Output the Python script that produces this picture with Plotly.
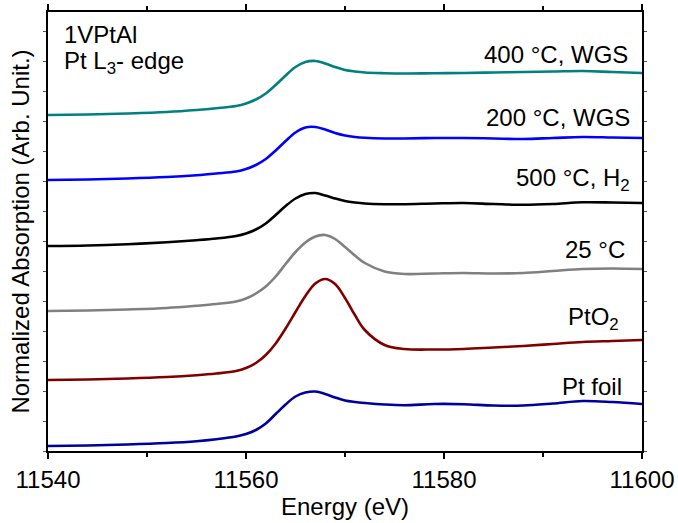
import plotly.graph_objects as go

energy = [11540, 11544, 11548, 11552, 11555, 11557, 11559, 11560, 11561, 11562, 11563, 11564, 11565,
          11566, 11567, 11568, 11569, 11570, 11571, 11572, 11574, 11576, 11579, 11582, 11585, 11588,
          11591, 11594, 11597, 11600]

# Offset normalized absorption for each spectrum
v_400wgs = [3.36, 3.365, 3.375, 3.39, 3.41, 3.428, 3.45, 3.475, 3.515, 3.575, 3.66, 3.755, 3.84,
            3.89, 3.90, 3.875, 3.84, 3.81, 3.795, 3.785, 3.778, 3.775, 3.778, 3.78, 3.785, 3.79,
            3.795, 3.80, 3.79, 3.78]
v_200wgs = [2.71, 2.715, 2.725, 2.74, 2.758, 2.775, 2.795, 2.82, 2.86, 2.92, 3.005, 3.10, 3.185,
            3.235, 3.24, 3.215, 3.18, 3.155, 3.14, 3.132, 3.125, 3.125, 3.13, 3.13, 3.125, 3.12,
            3.13, 3.14, 3.135, 3.13]
v_500h2 = [2.05, 2.055, 2.068, 2.088, 2.108, 2.125, 2.15, 2.175, 2.215, 2.275, 2.36, 2.45, 2.525,
           2.57, 2.58, 2.555, 2.525, 2.50, 2.485, 2.475, 2.468, 2.468, 2.475, 2.48, 2.47, 2.462,
           2.47, 2.487, 2.485, 2.48]
v_25c = [1.40, 1.405, 1.415, 1.43, 1.452, 1.47, 1.495, 1.525, 1.575, 1.645, 1.745, 1.87, 1.99,
         2.085, 2.145, 2.16, 2.12, 2.04, 1.955, 1.88, 1.795, 1.77, 1.775, 1.78, 1.775, 1.78,
         1.80, 1.82, 1.825, 1.82]
v_pto2 = [0.71, 0.715, 0.725, 0.74, 0.758, 0.775, 0.80, 0.83, 0.88, 0.96, 1.075, 1.225, 1.39,
          1.55, 1.675, 1.72, 1.67, 1.53, 1.36, 1.21, 1.06, 1.02, 1.015, 1.02, 1.035, 1.05,
          1.07, 1.09, 1.10, 1.11]
v_ptfoil = [0.05, 0.055, 0.065, 0.08, 0.098, 0.118, 0.145, 0.17, 0.21, 0.275, 0.37, 0.465, 0.545,
            0.585, 0.595, 0.57, 0.535, 0.505, 0.49, 0.48, 0.465, 0.458, 0.47, 0.468, 0.455, 0.455,
            0.475, 0.50, 0.49, 0.47]

labels = ["400 °C, WGS", "200 °C, WGS", "500 °C, H<sub>2</sub>", "25 °C", "PtO<sub>2</sub>", "Pt foil"]
colors = ["#008080", "#0000FF", "#000000", "#808080", "#800000", "#00009C"]
values = [v_400wgs, v_200wgs, v_500h2, v_25c, v_pto2, v_ptfoil]

# label anchors: right edge x (eV), middle y (data units)
label_x = [11598.8, 11599.0, 11599.0, 11598.5, 11597.9, 11598.2]
label_y = [3.97, 3.34, 2.72, 2.015, 1.33, 0.65]

font = "Arial, Liberation Sans, sans-serif"
fs = 24
fig = go.Figure()
for name, v, c in zip(labels, values, colors):
    fig.add_trace(go.Scatter(x=energy, y=v, mode="lines", name=name,
                             line=dict(color=c, width=2.6, shape="spline", smoothing=1.0),
                             showlegend=False, hoverinfo="skip"))

for name, lx, ly in zip(labels, label_x, label_y):
    fig.add_annotation(x=lx, y=ly, text=name, showarrow=False, xanchor="right", yanchor="middle",
                       font=dict(size=fs, color="black", family=font))

fig.add_annotation(x=0.024, y=0.948, xref="paper", yref="paper", text="1VPtAl", showarrow=False,
                   xanchor="left", yanchor="middle", font=dict(size=fs, color="black", family=font))
fig.add_annotation(x=0.024, y=0.885, xref="paper", yref="paper", text="Pt L<sub>3</sub>- edge", showarrow=False,
                   xanchor="left", yanchor="middle", font=dict(size=fs, color="black", family=font))

# axis titles
fig.add_annotation(x=0.5, y=-0.127, xref="paper", yref="paper", text="Energy (eV)", showarrow=False,
                   xanchor="center", yanchor="middle", font=dict(size=fs, color="black", family=font))
fig.add_annotation(x=-0.047, y=0.5, xref="paper", yref="paper", text="Normalized Absorption (Arb. Unit.)",
                   showarrow=False, textangle=-90, xanchor="center", yanchor="middle",
                   font=dict(size=fs, color="black", family=font))

fig.update_layout(
    width=678, height=523,
    margin=dict(l=48, r=36, t=12, b=72),
    paper_bgcolor="white", plot_bgcolor="white",
    font=dict(family=font, size=fs, color="black"),
    xaxis=dict(range=[11540, 11600], tickmode="linear", tick0=11540, dtick=20, tickformat="d",
               ticks="outside", ticklen=6, tickwidth=1.5, tickcolor="black",
               minor=dict(dtick=10, ticks="outside", ticklen=4, tickcolor="black", tickwidth=1.5),
               showline=True, linecolor="black", linewidth=1.5, mirror="ticks",
               showgrid=False, zeroline=False, automargin=False,
               tickfont=dict(size=fs)),
    yaxis=dict(range=[0, 4.39], tickmode="linear", tick0=0, dtick=0.3,
               ticks="outside", ticklen=3, tickwidth=1, tickcolor="#555",
               showticklabels=False, automargin=False,
               showline=True, linecolor="black", linewidth=1.5, mirror="ticks",
               showgrid=False, zeroline=False),
)

fig.write_html("out.html")
